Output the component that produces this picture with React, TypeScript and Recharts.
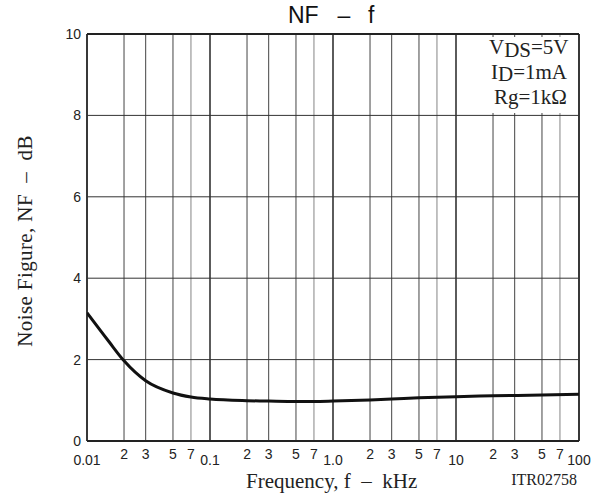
import React from 'react';
import { LineChart, Line, XAxis, YAxis, ReferenceLine } from 'recharts';

const frequencyKHz = [0.01, 0.015, 0.02, 0.03, 0.05, 0.07, 0.1, 0.2, 0.3, 0.5, 0.7, 1, 2, 3, 5, 10, 20, 50, 100];
const noiseFigureDb = [3.15, 2.45, 1.97, 1.48, 1.18, 1.08, 1.03, 0.99, 0.98, 0.97, 0.97, 0.98, 1.01, 1.03, 1.06, 1.09, 1.11, 1.13, 1.15];
const xTicks = [0.01, 0.02, 0.03, 0.05, 0.07, 0.1, 0.2, 0.3, 0.5, 0.7, 1, 2, 3, 5, 7, 10, 20, 30, 50, 70, 100];
const xTickLabels = ['0.01', '2', '3', '5', '7', '0.1', '2', '3', '5', '7', '1.0', '2', '3', '5', '7', '10', '2', '3', '5', '7', '100'];
const decadeTicks = [0.01, 0.1, 1, 10, 100];
const yTicks = [0, 2, 4, 6, 8, 10];
const yGrid = [2, 4, 6, 8];

const SANS = '"Liberation Sans", Arial, sans-serif';
const SERIF = '"Liberation Serif", "Times New Roman", serif';

const data = frequencyKHz.map((f, i) => ({ f, nf: noiseFigureDb[i] }));

const XTick = (props: any) => {
  const { x, payload, index } = props;
  const v = payload.value;
  const isDecade = decadeTicks.includes(v);
  const label = xTickLabels[index] ?? String(v);
  return (
    <text x={x} y={isDecade ? 465 : 459} textAnchor="middle" fontFamily={SANS} fontSize={14} fill="#222">
      {label}
    </text>
  );
};

const YTick = (props: any) => {
  const { y, payload } = props;
  return (
    <text x={81} y={y + 5} textAnchor="end" fontFamily={SANS} fontSize={14} fill="#222">
      {payload.value}
    </text>
  );
};

const vStyle = (v: number) => {
  if (v === 0.01 || v === 100) return { stroke: '#222', w: 1.8 };
  if (decadeTicks.includes(v)) return { stroke: '#333', w: 1.6 };
  const m = Math.round(v / Math.pow(10, Math.floor(Math.log10(v) + 1e-9)));
  if (m === 7) return { stroke: '#999', w: 1.2 };
  return { stroke: '#444', w: 1 };
};

export default function App() {
  return (
    <div style={{ position: 'absolute', left: 0, top: 0, width: 594, height: 495, background: '#fff' }}>
      <LineChart width={594} height={495} data={data} margin={{ top: 34, right: 15, bottom: 0, left: 0 }}>
        <XAxis
          dataKey="f"
          type="number"
          scale="log"
          domain={[0.01, 100]}
          ticks={xTicks}
          interval={0}
          tick={<XTick />}
          tickLine={false}
          axisLine={false}
          height={54}
          allowDataOverflow
        />
        <YAxis
          type="number"
          domain={[0, 10]}
          ticks={yTicks}
          interval={0}
          tick={<YTick />}
          tickLine={false}
          axisLine={false}
          width={87}
          allowDataOverflow
        />
        {xTicks.map((v) => {
          const s = vStyle(v);
          return <ReferenceLine key={'v' + v} x={v} stroke={s.stroke} strokeWidth={s.w} ifOverflow="visible" />;
        })}
        {yGrid.map((v) => (
          <ReferenceLine key={'h' + v} y={v} stroke="#333" strokeWidth={1} />
        ))}
        <ReferenceLine y={0} stroke="#222" strokeWidth={1.8} ifOverflow="visible" />
        <ReferenceLine y={10} stroke="#222" strokeWidth={1.8} ifOverflow="visible" />
        <Line
          type="monotone"
          dataKey="nf"
          stroke="#111"
          strokeWidth={3}
          dot={false}
          isAnimationActive={false}
        />
      </LineChart>
      <svg
        width={594}
        height={495}
        style={{ position: 'absolute', left: 0, top: 0, pointerEvents: 'none' }}
      >
        <text x={288} y={23} fontFamily={SANS} fontSize={23} fill="#111">NF</text>
        <text x={344} y={23} textAnchor="middle" fontFamily={SANS} fontSize={23} fill="#111">–</text>
        <text x={368} y={23} fontFamily={SANS} fontSize={23} fill="#111">f</text>

        <rect x={485} y={37} width={92} height={76} fill="#fff" />
        <text x={489} y={54} fontFamily={SERIF} fontSize={21} fill="#222">
          <tspan>V</tspan>
          <tspan dy={3}>DS</tspan>
          <tspan dy={-3}>=5V</tspan>
        </text>
        <text x={491} y={79} fontFamily={SERIF} fontSize={21} fill="#222">
          <tspan>I</tspan>
          <tspan dy={2}>D</tspan>
          <tspan dy={-2}>=1mA</tspan>
        </text>
        <text x={494} y={104} fontFamily={SERIF} fontSize={21} fill="#222">Rg=1kΩ</text>

        <text
          x={25}
          y={241}
          transform="rotate(-90 25 241)"
          textAnchor="middle"
          dominantBaseline="central"
          fontFamily={SERIF}
          fontSize={21}
          letterSpacing={0.4}
          fill="#222"
          style={{ whiteSpace: 'pre' }}
        >
          {'Noise Figure, NF  –  dB'}
        </text>
        <text x={246} y={488} fontFamily={SERIF} fontSize={21} fill="#222" style={{ whiteSpace: 'pre' }}>
          {'Frequency, f  –  kHz'}
        </text>
        <text x={577} y={485} textAnchor="end" fontFamily={SERIF} fontSize={16} fill="#222">ITR02758</text>
      </svg>
    </div>
  );
}
